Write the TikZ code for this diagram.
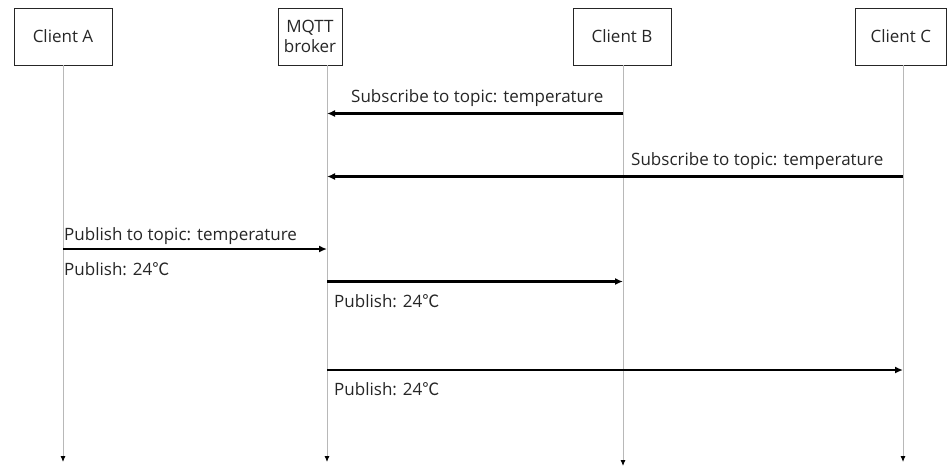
\documentclass[tikz,border=0pt]{standalone}
\usepackage{fontspec}
\setmainfont{Open Sans}
\newfontfamily\cjkfont{Noto Sans CJK KR}
\usetikzlibrary{arrows.meta}
\newcommand\degC{{\cjkfont ℃}}

\begin{document}
\begin{tikzpicture}[x=1pt,y=-1pt,
  actor/.style={draw=black!85,line width=0.9pt,minimum height=57pt,inner sep=0pt,
    font=\fontsize{17}{20}\selectfont,text=black!85,align=center},
  lifeline/.style={draw=black!28,line width=0.9pt,-{Latex[length=6pt,width=5pt,black]}},
  msg/.style={line width=2.2pt,-{Latex[length=8pt,width=7pt]}},
  lbl/.style={font=\fontsize{17}{20}\selectfont,text=black!85,inner sep=0pt,anchor=base west}]
\useasboundingbox (0,0) rectangle (947,467);

% participants
\node[actor,minimum width=98pt] (a) at (63,36.5) {Client A};
\node[actor,minimum width=64pt] (m) at (310,36.5) {MQTT\\broker};
\node[actor,minimum width=98pt] (b) at (622,36.5) {Client B};
\node[actor,minimum width=91.5pt] (c) at (900.75,36.5) {Client C};

% lifelines
\coordinate (aT) at (63,65);   \coordinate (aE) at (63,462);
\coordinate (mT) at (327,65);  \coordinate (mE) at (327,462);
\coordinate (bT) at (623,65);  \coordinate (bE) at (623,466);
\coordinate (cT) at (903,65);  \coordinate (cE) at (903,462);
\draw[lifeline] (aT) -- (aE);
\draw[lifeline] (mT) -- (mE);
\draw[lifeline] (bT) -- (bE);
\draw[lifeline] (cT) -- (cE);

% message end points on the lifelines
\coordinate (b1) at (623,113.5); \coordinate (m1) at (327,113.5);
\coordinate (c2) at (903,176.5); \coordinate (m2) at (327,176.5);
\coordinate (a3) at (63,249);    \coordinate (m3) at (327,249);
\coordinate (m4) at (327,281.5); \coordinate (b4) at (623,281.5);
\coordinate (m5) at (327,370);   \coordinate (c5) at (903,370);

% messages
\draw[msg] (b1) -- (m1);
\draw[msg] (c2) -- (m2);
\draw[msg] (a3) -- (m3);
\draw[msg] (m4) -- (b4);
\draw[msg] (m5) -- (c5);

% message labels
\node[lbl] (t1) at (351,102.7) {Subscribe to topic: temperature};
\node[lbl] (t2) at (631,165) {Subscribe to topic: temperature};
\node[lbl] (t3) at (64,240) {Publish to topic: temperature};
\node[lbl] (t4) at (64,275) {Publish: 24\degC};
\node[lbl] (t5) at (334,307) {Publish: 24\degC};
\node[lbl] (t6) at (334,395) {Publish: 24\degC};
\end{tikzpicture}
\end{document}
